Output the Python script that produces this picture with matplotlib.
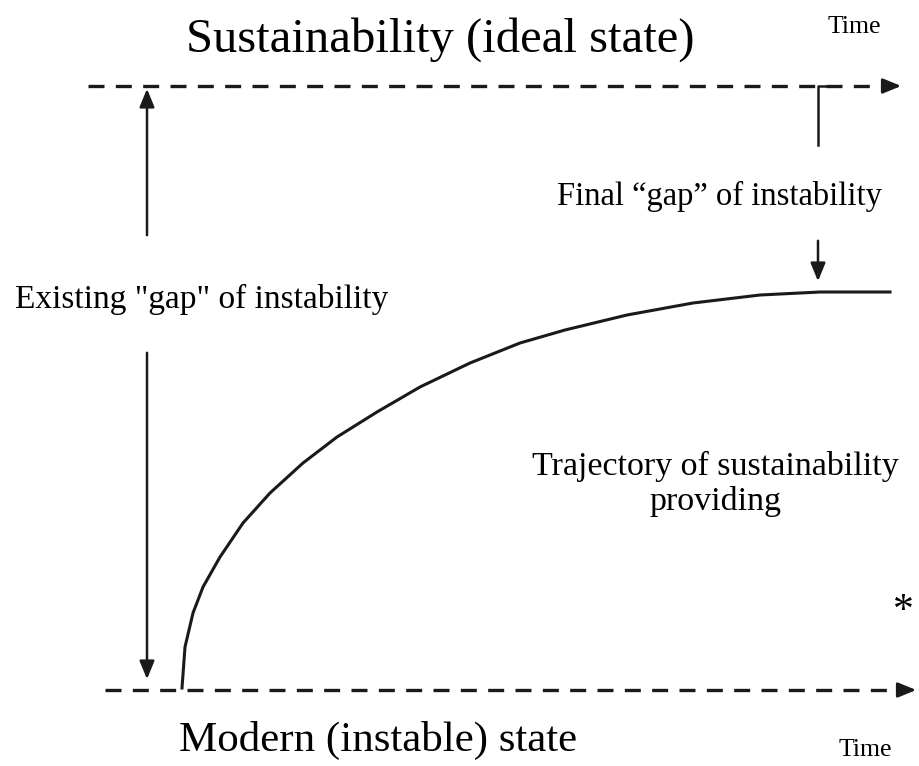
import matplotlib.pyplot as plt

# Trajectory curve (pixel coordinates, y down)
curve_x = [182, 185, 193, 203, 220, 243, 270, 303, 337, 377, 420, 470, 520, 565, 627, 693, 760, 820, 890]
curve_y = [688, 647, 613, 587, 557, 523, 493, 463, 437, 412, 387, 363, 343, 330, 315, 303, 295, 292, 292]

# Levels of the two dashed "time" axes
top_level = 86
bottom_level = 690

plt.rcParams['font.family'] = ['Liberation Serif', 'DejaVu Serif']

fig = plt.figure(figsize=(9.2, 7.66), dpi=100)
ax = fig.add_axes([0, 0, 1, 1])
ax.set_xlim(0, 920)
ax.set_ylim(766, 0)
ax.axis('off')

ink = '#1a1a1a'

# dashed time axes with arrow heads
dash = dict(color=ink, lw=2.4, dashes=(4.8, 3.4))
head = dict(arrowstyle='-|>,head_length=1.1,head_width=0.45', color=ink, lw=2)
ax.plot([88, 886], [top_level, top_level], **dash)
ax.annotate('', xy=(904, top_level), xytext=(880, top_level), arrowprops=head)
ax.plot([105, 900], [bottom_level, bottom_level], **dash)
ax.annotate('', xy=(919, bottom_level), xytext=(895, bottom_level), arrowprops=head)

# trajectory curve
ax.plot(curve_x, curve_y, color=ink, lw=2.2, solid_joinstyle='round')

# left "existing gap" double arrow, broken by the label
arr = dict(arrowstyle='-|>,head_length=1.1,head_width=0.45', color=ink, lw=1.8)
ax.annotate('', xy=(147, top_level), xytext=(147, 238), arrowprops=arr)
ax.annotate('', xy=(147, 682), xytext=(147, 350), arrowprops=arr)

# right "final gap" marker
ax.plot([818, 818, 830], [145, top_level, top_level], color=ink, lw=1.8)
ax.annotate('', xy=(818, 284), xytext=(818, 238), arrowprops=arr)

# labels
ax.text(440, 40, 'Sustainability (ideal state)', fontsize=35, ha='center', va='center')
ax.text(378, 740, 'Modern (instable) state', fontsize=31, ha='center', va='center')
ax.text(854, 27, 'Time', fontsize=18.5, ha='center', va='center')
ax.text(865, 750, 'Time', fontsize=18.5, ha='center', va='center')
ax.text(202, 299, 'Existing "gap" of instability', fontsize=24, ha='center', va='center')
ax.text(720, 196, 'Final \u201cgap\u201d of instability', fontsize=23.5, ha='center', va='center')
ax.text(715, 484, 'Trajectory of sustainability\nproviding', fontsize=24.5,
        ha='center', va='center', linespacing=1.15)
ax.text(903, 612, '*', fontsize=30, ha='center', va='center')

fig.savefig('out.png', dpi=100)
